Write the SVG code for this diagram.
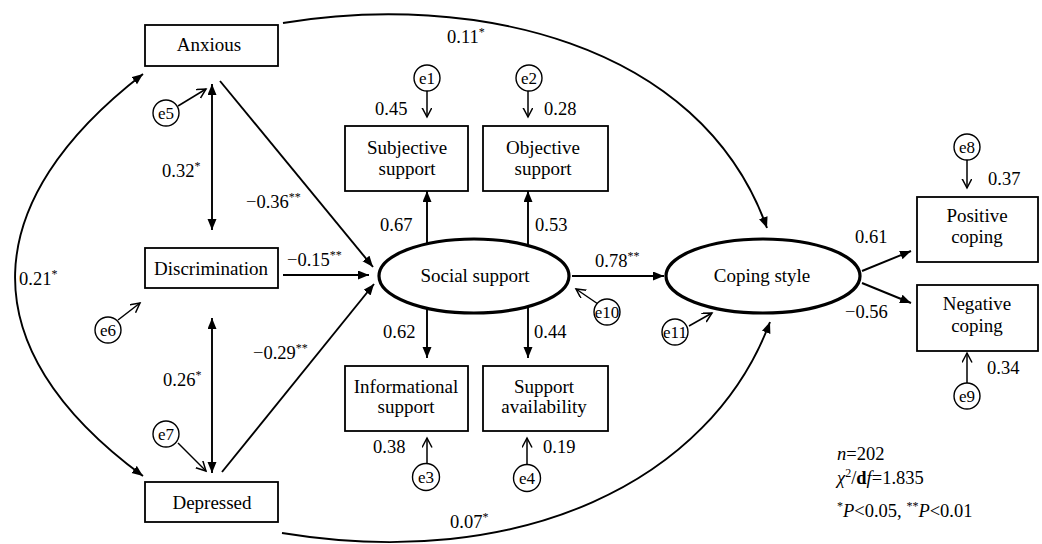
<svg xmlns="http://www.w3.org/2000/svg" width="1042" height="544" viewBox="0 0 1042 544" font-family="'Liberation Serif', 'DejaVu Serif', serif">
<style>
text{font-family:'Liberation Serif','DejaVu Serif',serif;fill:#000}
.lbl{font-size:19px;text-anchor:middle}
.num{font-size:18.5px}
.sup{font-size:12px}
.e{font-size:17px;text-anchor:middle}
.box{fill:#fff;stroke:#000;stroke-width:1.8}
.ell{fill:#fff;stroke:#000;stroke-width:3.2}
.cir{fill:#fff;stroke:#000;stroke-width:1.4}
.c{fill:none;stroke:#000;stroke-width:1.9}
.o{fill:none;stroke:#000;stroke-width:1.5}
</style>
<defs>
<marker id="ah" markerUnits="userSpaceOnUse" markerWidth="12" markerHeight="10" refX="11" refY="4.5" orient="auto-start-reverse" viewBox="0 0 12 10">
<path d="M0,0 L11,4.5 L0,9 z" fill="#000"/>
</marker>
<marker id="oh" markerUnits="userSpaceOnUse" markerWidth="12" markerHeight="12" refX="9.5" refY="5" orient="auto" viewBox="0 0 12 12">
<path d="M0,0 L9.5,5 L0,10" fill="none" stroke="#000" stroke-width="1.5"/>
</marker>
</defs>
<rect width="1042" height="544" fill="#fff"/>

<g id="connectors">
<path class="c" d="M143,74 C-20,200 -35,345 143,476" marker-start="url(#ah)" marker-end="url(#ah)"/>
<path class="c" d="M283,23 C470,-8 700,40 767,228" marker-end="url(#ah)"/>
<path class="c" d="M282,533 C520,572 710,482 770,322" marker-end="url(#ah)"/>
<line class="c" x1="212" y1="84" x2="212" y2="230" marker-start="url(#ah)" marker-end="url(#ah)"/>
<line class="c" x1="212" y1="318" x2="212" y2="473" marker-start="url(#ah)" marker-end="url(#ah)"/>
<line class="c" x1="220" y1="81" x2="373" y2="267" marker-end="url(#ah)"/>
<line class="c" x1="283" y1="275" x2="369" y2="275" marker-end="url(#ah)"/>
<line class="c" x1="222" y1="472" x2="374" y2="284" marker-end="url(#ah)"/>
<line class="c" x1="427" y1="244" x2="427" y2="191" marker-end="url(#ah)"/>
<line class="c" x1="528" y1="245" x2="528" y2="191" marker-end="url(#ah)"/>
<line class="c" x1="427" y1="308" x2="427" y2="358" marker-end="url(#ah)"/>
<line class="c" x1="528" y1="307" x2="528" y2="358" marker-end="url(#ah)"/>
<line class="c" x1="572" y1="276" x2="664" y2="276" marker-end="url(#ah)"/>
<line class="c" x1="862" y1="271" x2="911" y2="251" marker-end="url(#ah)"/>
<line class="c" x1="862" y1="283" x2="911" y2="303" marker-end="url(#ah)"/>
<line class="o" x1="178" y1="106" x2="206" y2="89" marker-end="url(#oh)"/>
<line class="o" x1="118" y1="320" x2="140" y2="303" marker-end="url(#oh)"/>
<line class="o" x1="178" y1="443" x2="206" y2="471" marker-end="url(#oh)"/>
<line class="o" x1="427" y1="91" x2="427" y2="117" marker-end="url(#oh)"/>
<line class="o" x1="528" y1="91" x2="528" y2="117" marker-end="url(#oh)"/>
<line class="o" x1="427" y1="463" x2="427" y2="438" marker-end="url(#oh)"/>
<line class="o" x1="527" y1="464" x2="527" y2="438" marker-end="url(#oh)"/>
<line class="o" x1="598" y1="304" x2="576" y2="289" marker-end="url(#oh)"/>
<line class="o" x1="689" y1="326" x2="712" y2="313" marker-end="url(#oh)"/>
<line class="o" x1="967" y1="160" x2="967" y2="188" marker-end="url(#oh)"/>
<line class="o" x1="967" y1="383" x2="967" y2="353" marker-end="url(#oh)"/>
</g>

<g id="labels">
<text class="num" x="19" y="285">0.21<tspan class="sup" dy="-7">*</tspan></text>
<text class="num" x="162" y="177">0.32<tspan class="sup" dy="-7">*</tspan></text>
<text class="num" x="163" y="386">0.26<tspan class="sup" dy="-7">*</tspan></text>
<text class="num" x="246" y="208">−0.36<tspan class="sup" dy="-7">**</tspan></text>
<text class="num" x="287" y="266">−0.15<tspan class="sup" dy="-7">**</tspan></text>
<text class="num" x="253" y="359">−0.29<tspan class="sup" dy="-7">**</tspan></text>
<text class="num" x="447" y="43">0.11<tspan class="sup" dy="-7">*</tspan></text>
<text class="num" x="450" y="528">0.07<tspan class="sup" dy="-7">*</tspan></text>
<text class="num" x="375" y="115">0.45</text>
<text class="num" x="544" y="115">0.28</text>
<text class="num" x="380" y="231">0.67</text>
<text class="num" x="535" y="231">0.53</text>
<text class="num" x="383" y="338">0.62</text>
<text class="num" x="534" y="338">0.44</text>
<text class="num" x="373" y="453">0.38</text>
<text class="num" x="543" y="453">0.19</text>
<text class="num" x="595" y="267">0.78<tspan class="sup" dy="-7">**</tspan></text>
<text class="num" x="855" y="243">0.61</text>
<text class="num" x="845" y="318">−0.56</text>
<text class="num" x="988" y="185">0.37</text>
<text class="num" x="987" y="374">0.34</text>
</g>

<g id="anxious"><rect class="box" x="145" y="25" width="133" height="41"/><text class="lbl" x="209" y="51">Anxious</text></g>
<g id="discrimination"><rect class="box" x="145" y="248" width="133" height="40"/><text class="lbl" x="211" y="275">Discrimination</text></g>
<g id="depressed"><rect class="box" x="145" y="482" width="133" height="40"/><text class="lbl" x="212" y="509">Depressed</text></g>

<g id="subjective"><rect class="box" x="345" y="126" width="123" height="65"/><text class="lbl" x="407" y="154">Subjective</text><text class="lbl" x="407" y="175">support</text></g>
<g id="objective"><rect class="box" x="483" y="126" width="125" height="65"/><text class="lbl" x="543" y="154">Objective</text><text class="lbl" x="543" y="175">support</text></g>
<g id="informational"><rect class="box" x="345" y="366" width="123" height="65"/><text class="lbl" x="406" y="393">Informational</text><text class="lbl" x="406" y="413">support</text></g>
<g id="availability"><rect class="box" x="483" y="366" width="125" height="65"/><text class="lbl" x="544" y="393">Support</text><text class="lbl" x="544" y="413">availability</text></g>

<g id="social"><ellipse class="ell" cx="474" cy="276" rx="95" ry="37"/><text class="lbl" x="475" y="282">Social support</text></g>
<g id="coping"><ellipse class="ell" cx="763" cy="276" rx="97" ry="37"/><text class="lbl" x="762" y="282">Coping style</text></g>

<g id="positive"><rect class="box" x="917" y="197" width="121" height="65"/><text class="lbl" x="977" y="222">Positive</text><text class="lbl" x="977" y="243">coping</text></g>
<g id="negative"><rect class="box" x="917" y="285" width="121" height="66"/><text class="lbl" x="977" y="310">Negative</text><text class="lbl" x="977" y="332">coping</text></g>

<g id="e1"><circle class="cir" cx="427" cy="78" r="13"/><text class="e" x="427" y="84">e1</text></g>
<g id="e2"><circle class="cir" cx="529" cy="78" r="13"/><text class="e" x="529" y="84">e2</text></g>
<g id="e3"><circle class="cir" cx="426" cy="477" r="13.5"/><text class="e" x="426" y="483">e3</text></g>
<g id="e4"><circle class="cir" cx="527" cy="478" r="13.5"/><text class="e" x="527" y="484">e4</text></g>
<g id="e5"><circle class="cir" cx="166" cy="113" r="13"/><text class="e" x="166" y="119">e5</text></g>
<g id="e6"><circle class="cir" cx="108" cy="330" r="13"/><text class="e" x="108" y="336">e6</text></g>
<g id="e7"><circle class="cir" cx="166" cy="434" r="13"/><text class="e" x="166" y="440">e7</text></g>
<g id="e8"><circle class="cir" cx="967" cy="147" r="13"/><text class="e" x="967" y="153">e8</text></g>
<g id="e9"><circle class="cir" cx="967" cy="396" r="13"/><text class="e" x="967" y="402">e9</text></g>
<g id="e10"><circle class="cir" cx="607" cy="312" r="13"/><text class="e" x="607" y="318">e10</text></g>
<g id="e11"><circle class="cir" cx="675" cy="332" r="13"/><text class="e" x="675" y="338">e11</text></g>

<g id="legend">
<text class="num" x="837" y="460"><tspan font-style="italic">n</tspan>=202</text>
<text class="num" x="837" y="484"><tspan font-style="italic">χ</tspan><tspan class="sup" dy="-7">2</tspan><tspan dy="7">/</tspan><tspan font-weight="bold">d</tspan><tspan font-style="italic">f</tspan>=1.835</text>
<text class="num" x="837" y="517"><tspan class="sup" dy="-7">*</tspan><tspan dy="7" font-style="italic">P</tspan>&lt;0.05, <tspan class="sup" dy="-7">**</tspan><tspan dy="7" font-style="italic">P</tspan>&lt;0.01</text>
</g>
</svg>
